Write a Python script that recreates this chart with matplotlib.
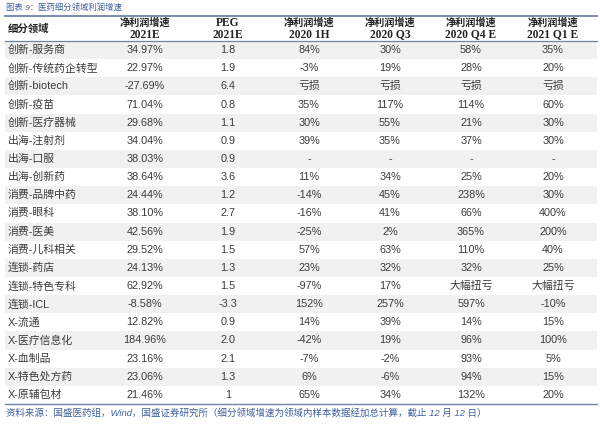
import matplotlib.pyplot as plt
from matplotlib.patches import Rectangle

plt.rcParams['font.family'] = ['Liberation Sans', 'Noto Sans CJK SC']

title = "图表 9：医药细分领域利润增速"
source = "资料来源：国盛医药组，Wind，国盛证券研究所（细分领域增速为领域内样本数据经加总计算，截止 12 月 12 日）"

header_top = ["", "净利润增速", "PEG", "净利润增速", "净利润增速", "净利润增速", "净利润增速"]
header_bot = ["", "2021E", "2021E", "2020 1H", "2020 Q3", "2020 Q4 E", "2021 Q1 E"]
first_header = "细分领域"

sectors = ["创新-服务商", "创新-传统药企转型", "创新-biotech", "创新-疫苗", "创新-医疗器械",
           "出海-注射剂", "出海-口服", "出海-创新药", "消费-品牌中药", "消费-眼科",
           "消费-医美", "消费-儿科相关", "连锁-药店", "连锁-特色专科", "连锁-ICL",
           "X-流通", "X-医疗信息化", "X-血制品", "X-特色处方药", "X-原辅包材"]
growth_2021e = ["34.97%", "22.97%", "-27.69%", "71.04%", "29.68%", "34.04%", "38.03%",
                "38.64%", "24.44%", "38.10%", "42.56%", "29.52%", "24.13%", "62.92%",
                "-8.58%", "12.82%", "184.96%", "23.16%", "23.06%", "21.46%"]
peg_2021e = ["1.8", "1.9", "6.4", "0.8", "1.1", "0.9", "0.9", "3.6", "1.2", "2.7",
             "1.9", "1.5", "1.3", "1.5", "-3.3", "0.9", "2.0", "2.1", "1.3", "1"]
growth_2020h1 = ["84%", "-3%", "亏损", "35%", "30%", "39%", "-", "11%", "-14%", "-16%",
                 "-25%", "57%", "23%", "-97%", "152%", "14%", "-42%", "-7%", "6%", "65%"]
growth_2020q3 = ["30%", "19%", "亏损", "117%", "55%", "35%", "-", "34%", "45%", "41%",
                 "2%", "63%", "32%", "17%", "257%", "39%", "19%", "-2%", "-6%", "34%"]
growth_2020q4 = ["58%", "28%", "亏损", "114%", "21%", "37%", "-", "25%", "238%", "66%",
                 "365%", "110%", "32%", "大幅扭亏", "597%", "14%", "96%", "93%", "94%", "132%"]
growth_2021q1 = ["35%", "20%", "亏损", "60%", "30%", "30%", "-", "20%", "30%", "400%",
                 "200%", "40%", "25%", "大幅扭亏", "-10%", "15%", "100%", "5%", "15%", "20%"]

columns = [sectors, growth_2021e, peg_2021e, growth_2020h1,
           growth_2020q3, growth_2020q4, growth_2021q1]

W, H = 600, 425
fig = plt.figure(figsize=(6, 4.25), dpi=100)
ax = fig.add_axes([0, 0, 1, 1])
ax.set_xlim(0, W)
ax.set_ylim(H, 0)
ax.axis("off")

col_x = [8, 145, 228, 309, 390, 471, 553]
table_left, table_right = 5, 597
head_top, head_bot = 16, 41
row_h = 18.15
line_c = "#6f82a8"
text_c = "#3a3a3a"
blue = "#3d5f9e"
serif = ["Liberation Serif", "Noto Sans CJK SC"]

ax.text(6, 8, title, fontsize=6, color=blue, style="italic", va="center", ha="left")

# header
ax.text(col_x[0], 28.5, first_header, fontsize=7.5, fontweight="bold",
        color="#222222", ha="left", va="center")
for i in range(1, len(header_top)):
    top_font = serif if header_top[i] == "PEG" else None
    ax.text(col_x[i], 22.5, header_top[i], fontsize=8.3 if top_font else 7.3,
            fontweight="bold", color="#222222", ha="center", va="center",
            family=top_font)
    ax.text(col_x[i], 34.5, header_bot[i], fontsize=8.3, fontweight="bold",
            color="#222222", ha="center", va="center", family=serif)

# rows
for r in range(len(sectors)):
    y0 = head_bot + r * row_h
    if r % 2 == 0:
        ax.add_patch(Rectangle((table_left, y0), table_right - table_left, row_h,
                               facecolor="#f1f1f1", edgecolor="none"))
    yc = y0 + row_h / 2
    for i, col in enumerate(columns):
        ha = "left" if i == 0 else "center"
        ax.text(col_x[i], yc, col[r], fontsize=7.8, color=text_c, ha=ha, va="center")

bottom = head_bot + len(sectors) * row_h
ax.plot([table_left, table_right], [head_top, head_top], color=line_c, lw=1.3)
ax.plot([table_left, table_right], [head_bot, head_bot], color=line_c, lw=0.9)
ax.plot([table_left, table_right], [bottom, bottom], color=line_c, lw=1.0)

ax.text(6, bottom + 9, source, fontsize=6.8, color=blue, style="italic",
        va="center", ha="left")

fig.savefig("out.png", dpi=100)
